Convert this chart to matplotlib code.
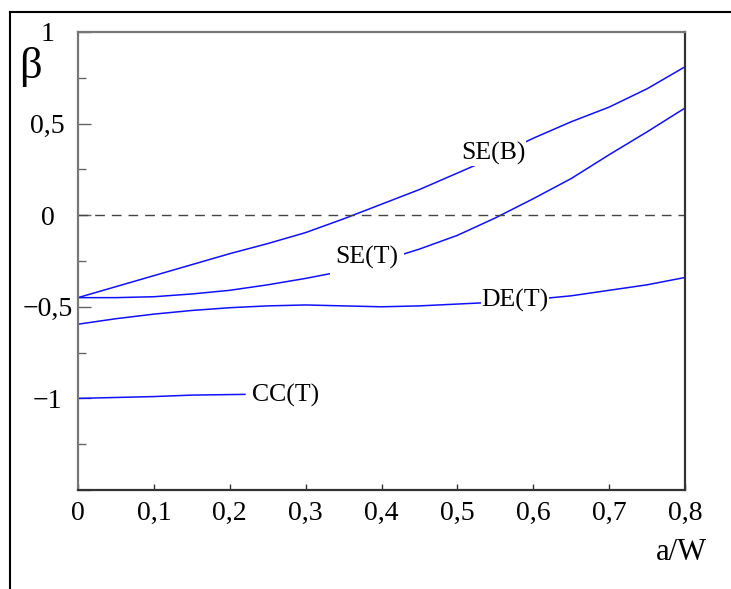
import numpy as np
import matplotlib.pyplot as plt
from matplotlib.lines import Line2D
from matplotlib.ticker import MultipleLocator, FuncFormatter

plt.rcParams['font.family'] = ['Liberation Serif', 'DejaVu Serif']

# данные кривых
aw = [0.0, 0.05, 0.1, 0.15, 0.2, 0.25, 0.3, 0.35, 0.4,
      0.45, 0.5, 0.55, 0.6, 0.65, 0.7, 0.75, 0.8]
se_b = [-0.45, -0.39, -0.33, -0.27, -0.21, -0.155, -0.095, -0.02, 0.06,
        0.14, 0.23, 0.32, 0.42, 0.51, 0.59, 0.69, 0.81]
se_t = [-0.45, -0.45, -0.445, -0.43, -0.41, -0.38, -0.345, -0.305, -0.25,
        -0.185, -0.11, -0.015, 0.09, 0.20, 0.33, 0.455, 0.585]
de_t = [-0.595, -0.565, -0.54, -0.52, -0.505, -0.495, -0.49, -0.495, -0.50,
        -0.495, -0.485, -0.475, -0.46, -0.44, -0.41, -0.38, -0.34]
cc_x = [0.0, 0.05, 0.1, 0.15, 0.22]
cc_t = [-1.0, -0.995, -0.99, -0.982, -0.978]

fig = plt.figure(figsize=(7.31, 5.89), dpi=100)
ax = fig.add_axes([78 / 731, 1 - 490 / 589, 607 / 731, 458 / 589])

line_kw = dict(color='#1010ff', lw=1.1)
ax.plot(aw, se_b, **line_kw)
ax.plot(aw, se_t, **line_kw)
ax.plot(aw, de_t, **line_kw)
ax.plot(cc_x, cc_t, **line_kw)
ax.axhline(0, color='#444444', lw=1.0, dashes=(7, 5))

box = dict(facecolor='white', edgecolor='none', pad=0.5)
ax.text(0.547, 0.338, 'SE(B)', fontsize=18.5, ha='center', va='center', bbox=box)
ax.text(0.381, -0.23, 'SE(T)', fontsize=18.5, ha='center', va='center',
        bbox=dict(facecolor='white', edgecolor='none', pad=4))
ax.text(0.576, -0.465, 'DE(T)', fontsize=18.5, ha='center', va='center',
        bbox=dict(facecolor='white', edgecolor='none', pad=0))
ax.text(0.229, -0.985, 'CC(T)', fontsize=18.5, ha='left', va='center', bbox=box)

ax.set_xlim(0, 0.8)
ax.set_ylim(-1.5, 1.0)
ax.xaxis.set_major_locator(MultipleLocator(0.1))
ax.yaxis.set_major_locator(MultipleLocator(0.5))
ax.yaxis.set_minor_locator(MultipleLocator(0.25))


def comma(v, pos):
    if abs(v + 1.5) < 1e-9:
        return ''
    s = ('%.1f' % v).rstrip('0').rstrip('.')
    if s in ('-0', ''):
        s = '0'
    return s.replace('.', ',').replace('-', '\u2212')


ax.xaxis.set_major_formatter(FuncFormatter(comma))
ax.yaxis.set_major_formatter(FuncFormatter(comma))
ax.tick_params(axis='x', direction='in', length=4, width=1, colors='#333333',
               labelcolor='black', labelsize=20, pad=8)
ax.tick_params(axis='y', which='major', direction='in', length=9, width=1,
               colors='#666666', labelcolor='black', labelsize=20, pad=22)
ax.tick_params(axis='y', which='minor', direction='in', length=6, width=1, colors='#666666')
for lab in ax.get_yticklabels():
    lab.set_horizontalalignment('center')

ax.spines['left'].set_color('#777777')
ax.spines['top'].set_color('#777777')
ax.spines['bottom'].set_color('#333333')
ax.spines['right'].set_color('#333333')
for sp in ax.spines.values():
    sp.set_linewidth(1.6)

fig.text(30 / 731, 1 - 67 / 589, '\u03b2', fontsize=32, ha='center', va='center')
fig.text(681 / 731, 1 - 552 / 589, 'a/W', fontsize=22, ha='center', va='center')

# рамка вокруг рисунка
fig.add_artist(Line2D([10 / 731, 10 / 731], [0, 1 - 12 / 589], color='black', lw=1.5))
fig.add_artist(Line2D([10 / 731, 1], [1 - 12 / 589, 1 - 12 / 589], color='black', lw=1.5))

fig.savefig('out.png', dpi=100)
